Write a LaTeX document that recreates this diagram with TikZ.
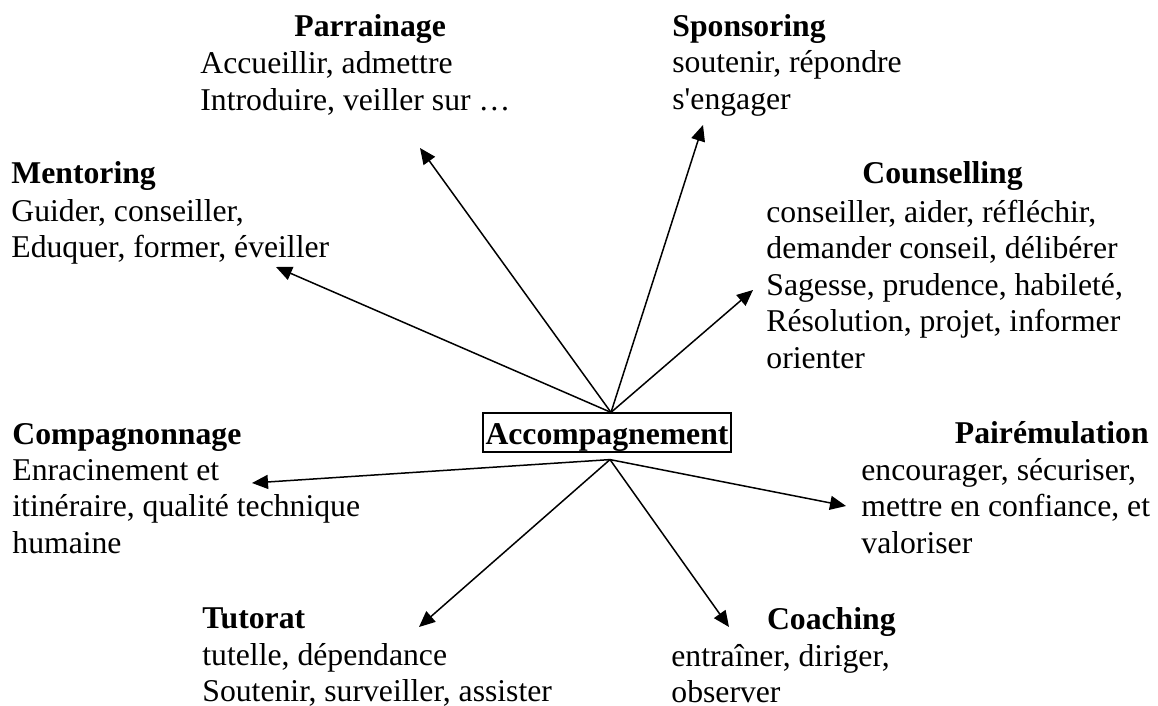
\documentclass[tikz,border=0pt]{standalone}
\usepackage{fontspec}
\setmainfont{Liberation Serif}
\usetikzlibrary{arrows.meta}

\begin{document}
\begin{tikzpicture}[x=0.5pt,y=-0.5pt]
  \tikzstyle{every node}+=[inner sep=0pt, font=\fontsize{15.85}{18.25}\selectfont]
  \tikzstyle{head}=[font=\fontsize{15.85}{18.25}\selectfont\bfseries, anchor=base west]
  \tikzstyle{txt}=[align=left, anchor=base west]
  \tikzstyle{arr}=[-{Triangle[length=8pt,width=7pt]}, line width=0.75pt]
  \useasboundingbox (0,0) rectangle (1158,706);
  \node [draw, line width=0.6pt, font=\fontsize{15.85}{18.25}\selectfont\bfseries,
    inner xsep=1.25pt, text height=15.5pt, text depth=4pt] (acc) at (607,432.5) {Accompagnement};
  \coordinate (hubN) at ([xshift=2pt]acc.north);
  \coordinate (hubS) at ([xshift=1.5pt,yshift=-3.5pt]acc.south);
  \node [head] (parrH) at (294,37) {Parrainage};
  \node [txt] (parr) at (200,110.5) {Accueillir, admettre\\Introduire, veiller sur …};
  \node [head] (sponH) at (672,37) {Sponsoring};
  \node [txt] (spon) at (672,109.5) {soutenir, répondre\\s\textquotesingle engager};
  \node [head] (mentH) at (11,184) {Mentoring};
  \node [txt] (ment) at (11,257.5) {Guider, conseiller,\\Eduquer, former, éveiller};
  \node [head] (counH) at (862,184) {Counselling};
  \node [txt] (coun) at (766,368) {conseiller, aider, réfléchir,\\demander conseil, délibérer\\Sagesse, prudence, habileté,\\Résolution, projet, informer\\orienter};
  \node [head] (compH) at (12,444) {Compagnonnage};
  \node [txt] (comp) at (12,553) {Enracinement et\\itinéraire, qualité technique\\humaine};
  \node [head, anchor=base east] (pairH) at (1149,443) {Pairémulation};
  \node [txt] (pair) at (861,553) {encourager, sécuriser,\\mettre en confiance, et\\valoriser};
  \node [head] (tutoH) at (202,628) {Tutorat};
  \node [txt] (tuto) at (202,701.5) {tutelle, dépendance\\Soutenir, surveiller, assister};
  \node [head, anchor=base east] (coacH) at (896,629) {Coaching};
  \node [txt] (coac) at (671,702.5) {entraîner, diriger,\\observer};
  \coordinate (toParr) at (420,148);
  \coordinate (toSpon) at (703,125);
  \coordinate (toMent) at (276,267);
  \coordinate (toCoun) at (753,290);
  \coordinate (toComp) at (252,483);
  \coordinate (toPair) at (846,506);
  \coordinate (toTuto) at (419,627);
  \coordinate (toCoac) at (729,627);
  \draw [arr] (hubN) -- (toParr);
  \draw [arr] (hubN) -- (toSpon);
  \draw [arr] (hubN) -- (toMent);
  \draw [arr] (hubN) -- (toCoun);
  \draw [arr] (hubS) -- (toComp);
  \draw [arr] (hubS) -- (toPair);
  \draw [arr] (hubS) -- (toTuto);
  \draw [arr] (hubS) -- (toCoac);
\end{tikzpicture}
\end{document}
